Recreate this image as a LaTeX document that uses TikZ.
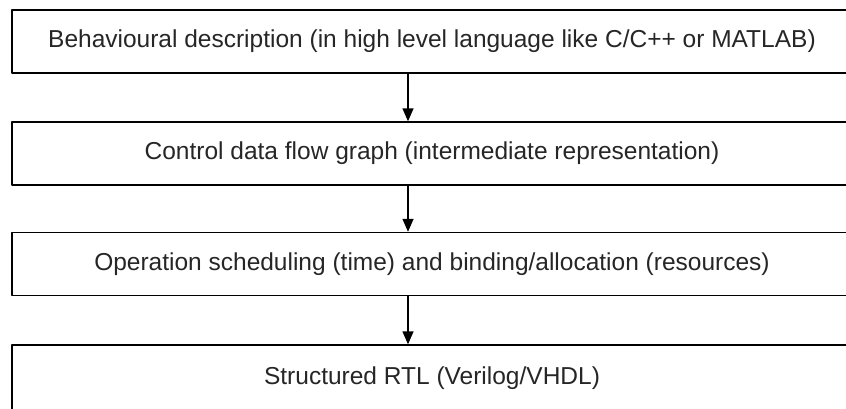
\documentclass[tikz,border=0pt]{standalone}
\usepackage{fontspec}
\setmainfont{Liberation Sans}
\usetikzlibrary{arrows.meta}
\begin{document}
\begin{tikzpicture}[x=1pt,y=-1pt,font=\fontsize{24.5}{29}\selectfont,line join=round,>={Triangle[length=13pt,width=11pt]},
	stage/.style={draw,line width=1.4pt,minimum width=840pt,minimum height=63pt,inner sep=0pt,text=black!85}]
			\useasboundingbox (0,0) rectangle (846,408);
			\node[stage] (behav) at (432,41.5) {Behavioural description (in high level language like C/C++ or MATLAB)};
			\node[stage] (cdfg) at (432,153.5) {Control data flow graph (intermediate representation)};
			\node[stage] (sched) at (432,264) {Operation scheduling (time) and binding/allocation (resources)};
			\node[stage,minimum height=66pt] (rtl) at (432,378) {Structured RTL (Verilog/VHDL)};
			\coordinate (ax) at (408,0);
			\draw[->,line width=1.4pt] (behav.south -| ax)--(cdfg.north -| ax);
			\draw[->,line width=1.4pt] (cdfg.south -| ax)--(sched.north -| ax);
			\draw[->,line width=1.4pt] (sched.south -| ax)--(rtl.north -| ax);
		\end{tikzpicture}
\end{document}
